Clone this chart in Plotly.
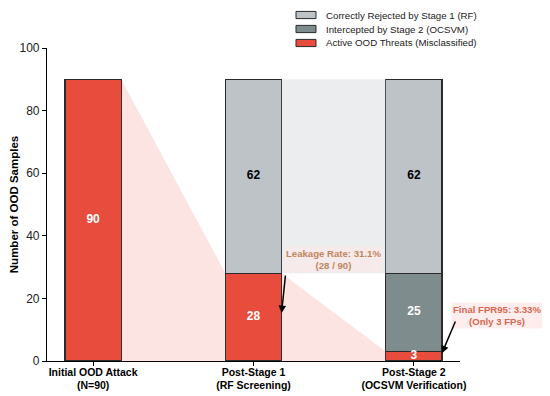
import plotly.graph_objects as go

categories = ["Initial OOD Attack<br>(N=90)", "Post-Stage 1<br>(RF Screening)", "Post-Stage 2<br>(OCSVM Verification)"]
active_threats = [90, 28, 3]
intercepted_s2 = [0, 0, 25]
rejected_s1 = [0, 62, 62]
series_names = ["Active OOD Threats (Misclassified)", "Intercepted by Stage 2 (OCSVM)", "Correctly Rejected by Stage 1 (RF)"]
series_colors = ["#e74c3c", "#7f8c8d", "#bdc3c7"]
y_ticks = [0, 20, 40, 60, 80, 100]

FONT = "Liberation Sans, Arial, sans-serif"
W = 0.35
xs = list(range(len(categories)))
totals = [a + b + c for a, b, c in zip(active_threats, intercepted_s2, rejected_s1)]

fig = go.Figure()

# flow polygons (threat funnel)
for i in range(len(xs) - 1):
    x0, x1 = xs[i] + W / 2, xs[i + 1] - W / 2
    fig.add_trace(go.Scatter(
        x=[x0, x0, x1, x1, x0], y=[0, active_threats[i], active_threats[i + 1], 0, 0],
        fill="toself", mode="lines", line=dict(width=0),
        fillcolor="rgba(231,76,60,0.15)", showlegend=False, hoverinfo="skip"))

# rejected region between stage 1 and stage 2
x0, x1 = xs[1] + W / 2, xs[2] - W / 2
fig.add_trace(go.Scatter(
    x=[x0, x0, x1, x1, x0],
    y=[active_threats[1], totals[1], totals[1], active_threats[1], active_threats[1]],
    fill="toself", mode="lines", line=dict(width=0),
    fillcolor="rgba(189,195,199,0.3)", showlegend=False, hoverinfo="skip"))

for vals, name, col in zip((active_threats, intercepted_s2, rejected_s1), series_names, series_colors):
    fig.add_trace(go.Bar(x=xs, y=vals, width=W, name=name, showlegend=False,
                         marker=dict(color=col, line=dict(color="#2b2b2b", width=1.2))))

# segment value labels
lx, ly, lt, lc = [], [], [], []
for i in xs:
    base = 0
    for vals, col in ((active_threats, "white"), (intercepted_s2, "white"), (rejected_s1, "black")):
        v = vals[i]
        if v:
            lx.append(i); ly.append(base + v / 2); lt.append(f"<b>{v}</b>"); lc.append(col)
        base += v
fig.add_trace(go.Scatter(x=lx, y=ly, text=lt, mode="text", showlegend=False, hoverinfo="skip",
                         textfont=dict(color=lc, size=12, family=FONT), cliponaxis=False))

# legend (manual, compact, top-right above the axes)
leg_rows = [1.1054, 1.0607, 1.016]
for row_y, name, col in zip(leg_rows, series_names[::-1], series_colors[::-1]):
    fig.add_shape(type="rect", xref="paper", yref="paper", x0=0.6029, x1=0.6513,
                  y0=row_y - 0.0115, y1=row_y + 0.0115, fillcolor=col,
                  line=dict(color="#2b2b2b", width=1))
    fig.add_annotation(xref="paper", yref="paper", x=0.6707, y=row_y, text=name, showarrow=False,
                       xanchor="left", yanchor="middle", font=dict(size=9.7, color="#222", family=FONT))

# annotations
fig.add_annotation(x=1.5, y=32.3, text="<b>Leakage Rate: 31.1%<br>(28 / 90)</b>", showarrow=False,
                   xanchor="center", yanchor="middle",
                   font=dict(size=9.6, color="#c0875f", family=FONT),
                   bgcolor="rgba(255,232,232,0.6)", borderpad=1)
fig.add_annotation(x=1.175, y=15.3, ax=1.2, ay=27.8, axref="x", ayref="y", text="",
                   showarrow=True, arrowhead=2, arrowsize=1, arrowwidth=1.5, arrowcolor="black")
fig.add_annotation(xref="paper", yref="paper", x=1.0896, y=0.1438,
                   xanchor="center", yanchor="middle",
                   text="<b>Final FPR95: 3.33%<br>(Only 3 FPs)</b>", showarrow=False,
                   font=dict(size=9.6, color="#d9674f", family=FONT),
                   bgcolor="rgba(253,232,232,0.8)", borderpad=1)
fig.add_annotation(x=2.175, y=2.5, ax=2.2625, ay=13.1, axref="x", ayref="y", text="",
                   showarrow=True, arrowhead=2, arrowsize=1, arrowwidth=1.5, arrowcolor="black")

fig.update_layout(
    width=542, height=388, barmode="stack",
    margin=dict(l=39, r=90, t=40, b=35, autoexpand=False),
    plot_bgcolor="white", paper_bgcolor="white",
    font=dict(family=FONT, size=11, color="black"),
    showlegend=False,
    xaxis=dict(range=[-0.2875, 2.2875], tickvals=xs, ticktext=[f"<b>{c}</b>" for c in categories],
               showline=True, linecolor="black", linewidth=1.2, ticks="outside", ticklen=4,
               tickcolor="black", showgrid=False, zeroline=False, tickfont=dict(size=10.5),
               ticklabelstandoff=-3, automargin=False),
    yaxis=dict(range=[0, 100], tickvals=y_ticks, showline=True, linecolor="black", linewidth=1.2,
               ticks="outside", ticklen=4, tickcolor="black", showgrid=False, zeroline=False,
               title=dict(text="<b>Number of OOD Samples</b>", font=dict(size=11.5), standoff=6),
               tickfont=dict(size=12, color="#222"), automargin=False),
)

fig.write_html("out.html")
